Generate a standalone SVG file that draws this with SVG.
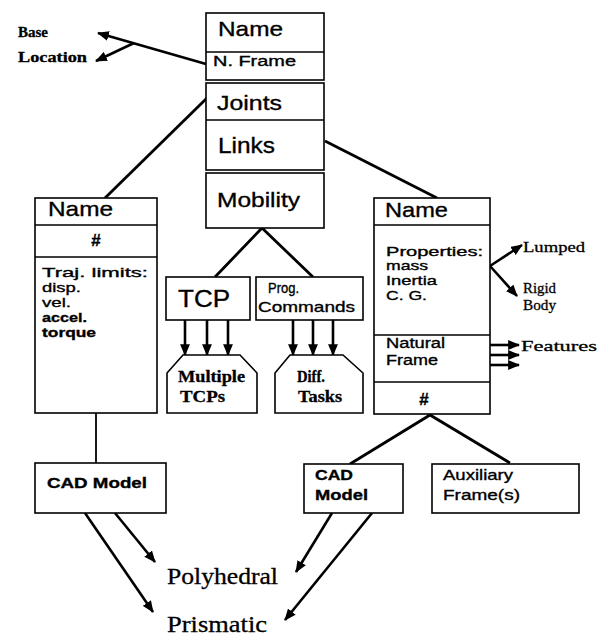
<svg xmlns="http://www.w3.org/2000/svg" width="598" height="636" viewBox="0 0 598 636">
<defs>
<style>
.box{fill:#fff;stroke:#000;stroke-width:1.6}
.sep{stroke:#000;stroke-width:1.6}
.conn{stroke:#000;stroke-width:2.8;fill:none}
.ar{stroke:#000;stroke-width:2.6;fill:none;marker-end:url(#ah)}
.sans{font-family:"Liberation Sans",Arial,sans-serif;fill:#000;stroke:#000;stroke-width:0.35}
.serif{font-family:"Liberation Serif","Times New Roman",serif;fill:#000;stroke:#000;stroke-width:0.3}
.b{font-weight:bold}
</style>
<marker id="ah" viewBox="0 0 12 10" refX="11" refY="5" markerWidth="4.6" markerHeight="3.8" orient="auto" markerUnits="strokeWidth">
<path d="M0,0 L12,5 L0,10 Z" fill="#000"/>
</marker>
</defs>
<rect width="598" height="636" fill="#fff"/>

<g id="connectors">
<line class="ar" x1="206" y1="64" x2="98" y2="33"/>
<line class="ar" x1="134" y1="43" x2="96" y2="61"/>
<line class="conn" x1="207" y1="98" x2="105" y2="198"/>
<line class="conn" x1="325" y1="141" x2="437" y2="198"/>
<polyline class="conn" points="215,277 262,228 313,277"/>
<line class="ar" x1="185" y1="320" x2="185" y2="355"/>
<line class="ar" x1="207" y1="320" x2="207" y2="355"/>
<line class="ar" x1="228" y1="320" x2="228" y2="355"/>
<line class="ar" x1="293" y1="320" x2="293" y2="355"/>
<line class="ar" x1="313" y1="320" x2="313" y2="355"/>
<line class="ar" x1="333" y1="320" x2="333" y2="355"/>
<line class="ar" x1="490" y1="266" x2="522" y2="245"/>
<line class="ar" x1="490" y1="266" x2="517" y2="296"/>
<line class="ar" x1="490" y1="345" x2="519" y2="345"/>
<line class="ar" x1="490" y1="355" x2="519" y2="355"/>
<line class="ar" x1="490" y1="365" x2="519" y2="365"/>
<line class="conn" x1="96" y1="413" x2="96" y2="463" style="stroke-width:1.8"/>
<polyline class="conn" points="350,464 430,415 510,463"/>
<line class="ar" x1="85" y1="513" x2="153" y2="612"/>
<line class="ar" x1="115" y1="513" x2="155" y2="562"/>
<line class="ar" x1="332" y1="513" x2="296" y2="572"/>
<line class="ar" x1="372" y1="513" x2="285" y2="620"/>
</g>

<g id="base-location">
<text class="serif b" x="18" y="37" font-size="15" textLength="30" lengthAdjust="spacingAndGlyphs">Base</text>
<text class="serif b" x="18" y="62" font-size="15" textLength="69" lengthAdjust="spacingAndGlyphs">Location</text>
</g>

<g id="robot">
<rect class="box" x="206" y="13" width="118" height="67"/>
<line class="sep" x1="206" y1="52" x2="324" y2="52"/>
<text class="sans" x="218" y="36" font-size="21" textLength="65" lengthAdjust="spacingAndGlyphs">Name</text>
<text class="sans" x="213" y="66" font-size="14" textLength="83" lengthAdjust="spacingAndGlyphs">N. Frame</text>
<rect class="box" x="206" y="83" width="118" height="87"/>
<line class="sep" x1="206" y1="120" x2="324" y2="120"/>
<text class="sans" x="217" y="110" font-size="21" textLength="65" lengthAdjust="spacingAndGlyphs">Joints</text>
<text class="sans" x="218" y="153" font-size="22" textLength="57" lengthAdjust="spacingAndGlyphs">Links</text>
<rect class="box" x="206" y="173" width="118" height="55"/>
<text class="sans" x="217" y="207" font-size="21" textLength="83" lengthAdjust="spacingAndGlyphs">Mobility</text>
</g>

<g id="joint">
<rect class="box" x="35" y="198" width="122" height="215"/>
<line class="sep" x1="35" y1="225" x2="157" y2="225"/>
<line class="sep" x1="35" y1="257" x2="157" y2="257"/>
<text class="sans" x="48" y="216" font-size="21" textLength="65" lengthAdjust="spacingAndGlyphs">Name</text>
<text class="sans b" x="96" y="246" font-size="17" text-anchor="middle">#</text>
<text class="sans" x="42" y="277" font-size="13.5" textLength="106" lengthAdjust="spacingAndGlyphs">Traj. limits:</text>
<text class="sans" x="42" y="292" font-size="13.5" textLength="39" lengthAdjust="spacingAndGlyphs">disp.</text>
<text class="sans" x="42" y="307" font-size="13.5" textLength="29" lengthAdjust="spacingAndGlyphs">vel.</text>
<text class="sans b" x="42" y="322" font-size="13.5" textLength="45" lengthAdjust="spacingAndGlyphs">accel.</text>
<text class="sans b" x="42" y="337" font-size="13.5" textLength="54" lengthAdjust="spacingAndGlyphs">torque</text>
</g>

<g id="tcp">
<rect class="box" x="166" y="277" width="84" height="43"/>
<text class="sans" x="178" y="307" font-size="23" textLength="52" lengthAdjust="spacingAndGlyphs">TCP</text>
</g>

<g id="prog-commands">
<rect class="box" x="256" y="277" width="107" height="43"/>
<text class="sans" x="268" y="293" font-size="14" textLength="31" lengthAdjust="spacingAndGlyphs">Prog.</text>
<text class="sans" x="258" y="312" font-size="15" textLength="97" lengthAdjust="spacingAndGlyphs">Commands</text>
</g>

<g id="multiple-tcps">
<polygon class="box" points="183,355 240,355 257,373 257,413 167,413 167,373"/>
<text class="serif b" x="178" y="382" font-size="16" textLength="67" lengthAdjust="spacingAndGlyphs">Multiple</text>
<text class="serif b" x="180" y="402" font-size="16" textLength="45" lengthAdjust="spacingAndGlyphs">TCPs</text>
</g>

<g id="diff-tasks">
<polygon class="box" points="290,355 343,355 363,373 363,413 275,413 275,373"/>
<text class="serif b" x="297" y="382" font-size="16" textLength="28" lengthAdjust="spacingAndGlyphs">Diff.</text>
<text class="serif b" x="298" y="402" font-size="16" textLength="44" lengthAdjust="spacingAndGlyphs">Tasks</text>
</g>

<g id="link">
<rect class="box" x="374" y="198" width="116" height="216"/>
<line class="sep" x1="374" y1="225" x2="490" y2="225"/>
<line class="sep" x1="374" y1="335" x2="490" y2="335"/>
<line class="sep" x1="374" y1="382" x2="490" y2="382"/>
<text class="sans" x="385" y="217" font-size="21" textLength="63" lengthAdjust="spacingAndGlyphs">Name</text>
<text class="sans" x="386" y="256" font-size="13" textLength="97" lengthAdjust="spacingAndGlyphs">Properties:</text>
<text class="sans" x="386" y="270" font-size="13" textLength="42" lengthAdjust="spacingAndGlyphs">mass</text>
<text class="sans" x="386" y="285" font-size="13" textLength="51" lengthAdjust="spacingAndGlyphs">Inertia</text>
<text class="sans" x="386" y="300" font-size="13" textLength="41" lengthAdjust="spacingAndGlyphs">C. G.</text>
<text class="sans" x="386" y="348" font-size="14" textLength="59" lengthAdjust="spacingAndGlyphs">Natural</text>
<text class="sans" x="386" y="365" font-size="14" textLength="52" lengthAdjust="spacingAndGlyphs">Frame</text>
<text class="sans b" x="424" y="405" font-size="17" text-anchor="middle">#</text>
</g>

<g id="lumped">
<text class="serif" x="523" y="252" font-size="15" textLength="62" lengthAdjust="spacingAndGlyphs">Lumped</text>
</g>
<g id="rigid-body">
<text class="serif" x="523" y="293" font-size="15" textLength="33" lengthAdjust="spacingAndGlyphs">Rigid</text>
<text class="serif" x="523" y="310" font-size="15" textLength="33" lengthAdjust="spacingAndGlyphs">Body</text>
</g>
<g id="features">
<text class="serif" x="521" y="351" font-size="15" textLength="76" lengthAdjust="spacingAndGlyphs">Features</text>
</g>

<g id="joint-cad-model">
<rect class="box" x="35" y="463" width="131" height="50"/>
<text class="sans b" x="47" y="488" font-size="15" textLength="100" lengthAdjust="spacingAndGlyphs">CAD Model</text>
</g>

<g id="link-cad-model">
<rect class="box" x="304" y="464" width="99" height="49"/>
<text class="sans b" x="315" y="480" font-size="15" textLength="38" lengthAdjust="spacingAndGlyphs">CAD</text>
<text class="sans b" x="315" y="500" font-size="15" textLength="53" lengthAdjust="spacingAndGlyphs">Model</text>
</g>

<g id="auxiliary-frames">
<rect class="box" x="432" y="464" width="147" height="49"/>
<text class="sans" x="443" y="480" font-size="15" textLength="70" lengthAdjust="spacingAndGlyphs">Auxiliary</text>
<text class="sans" x="443" y="500" font-size="15" textLength="77" lengthAdjust="spacingAndGlyphs">Frame(s)</text>
</g>

<g id="polyhedral">
<text class="serif" x="167" y="584" font-size="23" textLength="111" lengthAdjust="spacingAndGlyphs">Polyhedral</text>
</g>
<g id="prismatic">
<text class="serif" x="167" y="632" font-size="23" textLength="100" lengthAdjust="spacingAndGlyphs">Prismatic</text>
</g>
</svg>
